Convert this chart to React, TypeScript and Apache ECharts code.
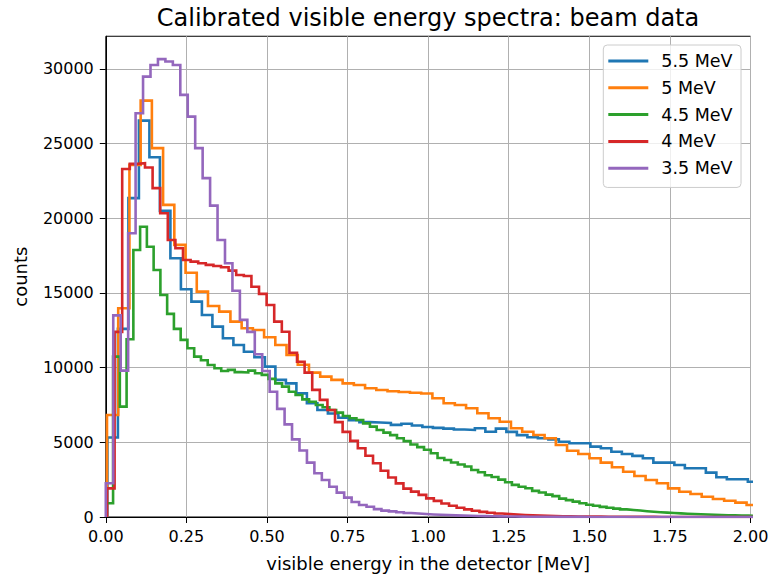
import React, { useEffect, useRef } from 'react';
import * as echarts from 'echarts';

// Series (beam energies) and matplotlib tab10 colours
const seriesNames = ['5.5 MeV', '5 MeV', '4.5 MeV', '4 MeV', '3.5 MeV'];
const seriesColors = ['#1f77b4', '#ff7f0e', '#2ca02c', '#d62728', '#9467bd'];

// Per-spectrum calibrated bin layout (first edge and bin width, MeV)
const binStarts = [0.005, 0.0037, 0.0016, 0.0037, 0.0];
const binWidths = [0.03257, 0.03481, 0.02097, 0.02358, 0.02311];

// Bin contents (counts)
const counts55 = [
  5320, 12600, 21350, 26540, 24090, 20500, 17330, 15250, 14420, 13530,
  12750, 11970, 11520, 11070, 10700, 10070, 9180, 8950, 8280, 7620,
  7170, 6930, 6650, 6480, 6350, 6330, 6300, 6170, 6240, 6130,
  6030, 5970, 5920, 5860, 5830, 5940, 5710, 5920, 5700, 5480,
  5340, 5270, 5200, 5040, 4940, 4940, 4710, 4600, 4370, 4220,
  4090, 3930, 3640, 3640, 3480, 3260, 3260, 2970, 2660, 2530,
  2530, 2360,
];
const counts50 = [
  6830, 13980, 23580, 27880, 24700, 20900, 18220, 16360, 15090, 14130,
  13750, 13080, 12640, 12520, 12040, 11520, 10850, 10200, 9670, 9400,
  9180, 8950, 8840, 8620, 8500, 8420, 8370, 8320, 8270, 7950,
  7620, 7500, 7280, 6950, 6610, 6380, 5940, 5710, 5490, 5270,
  4820, 4440, 4220, 3930, 3640, 3330, 3030, 2750, 2480, 2260,
  1920, 1690, 1540, 1360, 1210, 1090, 960, 800,
];
const counts45 = [
  920, 10740, 7390, 11900, 17880, 19440, 18100, 16540, 14870, 13600,
  12600, 11860, 11300, 10740, 10500, 10180, 9960, 9780, 9850, 9700,
  9680, 9800, 9630, 9520, 9250, 8950, 8730, 8390, 8170, 7880,
  7720, 7500, 7350, 7170, 6990, 6760, 6610, 6500, 6270, 6050,
  5830, 5650, 5480, 5270, 5080, 4850, 4680, 4500, 4270, 3950,
  3820, 3650, 3520, 3380, 3150, 3000, 2800, 2680, 2500, 2330,
  2150, 2030, 1930, 1750, 1640, 1500, 1400, 1230, 1130, 1030,
  920, 820, 750, 680, 620, 560, 510, 470, 430, 390,
  355, 320, 295, 270, 245, 220, 200, 180, 165, 150,
  135, 120, 110, 100, 90, 85,
];
const counts40 = [
  1920, 12400, 23300, 23650, 23690, 23400, 22020, 20340, 18550, 18000,
  17210, 17100, 16990, 16880, 16810, 16720, 16500, 16210, 16140, 15420,
  14940, 14200, 13080, 12410, 11000, 10400, 9670, 8510, 7840, 7170,
  6350, 5700, 5100, 4600, 4100, 3600, 3100, 2650, 2250, 1900,
  1700, 1480, 1250, 1080, 900, 750, 620, 510, 420, 340,
  280, 230, 190, 160, 130, 110, 90, 75, 62, 52,
  44, 37, 31, 26, 22, 18, 15, 12, 10, 8,
  7, 6, 5, 4, 3, 3, 2, 2, 1, 1,
  1, 1, 0, 0, 0,
];
const counts35 = [
  2260, 13500, 9800, 19000, 27040, 29490, 30270, 30660, 30500, 30270,
  28270, 26810, 24700, 22690, 20850, 18550, 16990, 15150, 13200, 12400,
  10900, 9780, 8390, 7240, 6200, 5200, 4450, 3640, 2930, 2480,
  2030, 1630, 1300, 1000, 800, 690, 530, 430, 380, 320,
  270, 230, 200, 170, 150, 130, 110, 95, 80, 70,
  60, 50, 42, 36, 30, 25, 21, 18, 15, 12,
  10, 8, 7, 6, 5, 4, 4, 3, 3, 2,
  2, 2, 1, 1, 1, 1, 1, 0, 1, 0,
  0, 0, 0, 0, 0, 0, 0,
];
const allCounts = [counts55, counts50, counts45, counts40, counts35];

// Axes
const X_MIN = 0;
const X_MAX = 2.0;
const X_INTERVAL = 0.25;
const Y_MAX = 32193;
const yTicks = [0, 5000, 10000, 15000, 20000, 25000, 30000];

const FONT = 'DejaVu Sans';

// matplotlib histtype="step": outline from bin edges and counts
function stepPoints(start: number, width: number, counts: number[]) {
  const pts: number[][] = [[start, 0]];
  counts.forEach((c, i) => pts.push([start + i * width, c]));
  const end = start + counts.length * width;
  pts.push([end, counts[counts.length - 1]]);
  pts.push([end, 0]);
  return pts;
}

export default function App() {
  const ref = useRef<HTMLDivElement>(null);

  useEffect(() => {
    if (!ref.current) return;
    const chart = echarts.init(ref.current, null, { renderer: 'svg' });
    const series = seriesNames.map((name, i) => ({
      name,
      type: 'line',
      data: stepPoints(binStarts[i], binWidths[i], allCounts[i]),
      step: 'end',
      symbol: 'none',
      showSymbol: false,
      clip: true,
      z: 2 + i,
      lineStyle: { color: seriesColors[i], width: 2.6, cap: 'butt', join: 'miter' },
      itemStyle: { color: seriesColors[i] },
      emphasis: { disabled: true },
    }));

    chart.setOption({
      animation: false,
      backgroundColor: '#ffffff',
      textStyle: { fontFamily: FONT },
      grid: {
        left: 105.8,
        right: 23.5,
        top: 36.25,
        bottom: 64,
        show: true,
        borderColor: '#000000',
        borderWidth: 1,
        backgroundColor: 'transparent',
      },
      graphic: [
        {
          type: 'text',
          x: 428,
          y: 18,
          z: 100,
          style: {
            text: 'Calibrated visible energy spectra: beam data',
            fontSize: 24,
            fontFamily: FONT,
            fill: '#000000',
            align: 'center',
            verticalAlign: 'middle',
            textAlign: 'center',
            textVerticalAlign: 'middle',
          },
        },
      ],
      legend: {
        data: seriesNames,
        orient: 'vertical',
        left: 603.3,
        top: 45,
        padding: [7, 8.5, 10.25, 5],
        itemWidth: 40,
        itemHeight: 3,
        itemGap: 8.8,
        icon: 'rect',
        borderColor: '#cccccc',
        borderWidth: 1,
        borderRadius: 4,
        backgroundColor: 'rgba(255,255,255,0.8)',
        selectedMode: false,
        textStyle: {
          fontFamily: FONT,
          fontSize: 17.5,
          lineHeight: 17.5,
          color: '#000000',
          padding: [0, 0, 0, 8],
        },
      },
      xAxis: {
        type: 'value',
        min: X_MIN,
        max: X_MAX,
        interval: X_INTERVAL,
        name: 'visible energy in the detector [MeV]',
        nameLocation: 'middle',
        nameGap: 37,
        nameTextStyle: { fontFamily: FONT, fontSize: 18, color: '#000000' },
        axisLine: { show: true, onZero: false, lineStyle: { color: '#000000', width: 1 } },
        axisTick: { show: true, length: 6, lineStyle: { color: '#000000', width: 1 } },
        axisLabel: {
          margin: 11,
          fontFamily: FONT,
          fontSize: 16,
          color: '#000000',
          formatter: (v: number) => v.toFixed(2),
        },
        splitLine: { show: true, lineStyle: { color: '#b0b0b0', width: 1 } },
      },
      yAxis: {
        type: 'value',
        min: 0,
        max: Y_MAX,
        interval: 5000,
        name: 'counts',
        nameLocation: 'middle',
        nameGap: 76,
        nameTextStyle: { fontFamily: FONT, fontSize: 18, color: '#000000' },
        axisLine: { show: true, onZero: false, lineStyle: { color: '#000000', width: 1 } },
        axisTick: {
          show: true,
          length: 6,
          customValues: yTicks,
          lineStyle: { color: '#000000', width: 1 },
        },
        axisLabel: {
          margin: 12,
          fontFamily: FONT,
          fontSize: 16,
          color: '#000000',
          customValues: yTicks,
          formatter: (v: number) => (yTicks.indexOf(v) >= 0 ? String(v) : ''),
        },
        splitLine: { show: true, lineStyle: { color: '#b0b0b0', width: 1 } },
      },
      series,
    });

    return () => chart.dispose();
  }, []);

  return (
    <div
      ref={ref}
      style={{ position: 'fixed', left: 0, top: 0, width: 774, height: 581, background: '#ffffff' }}
    />
  );
}
